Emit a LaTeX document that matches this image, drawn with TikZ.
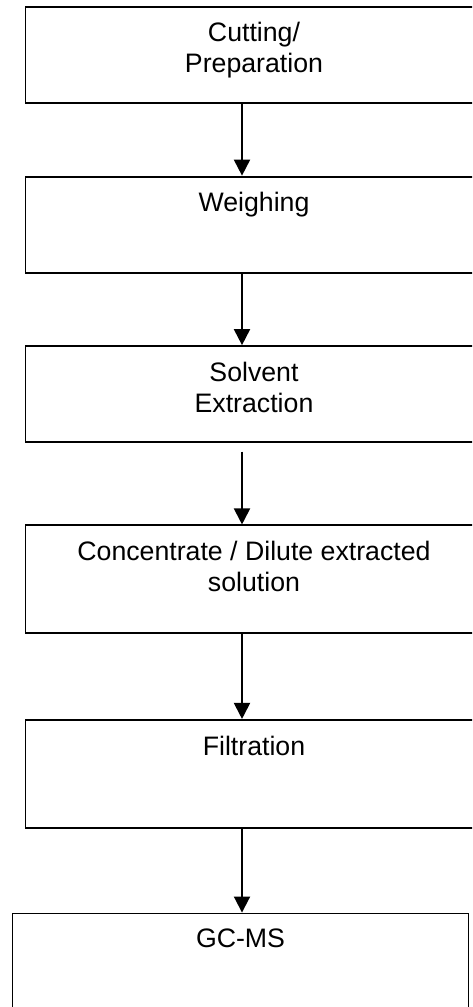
\documentclass[tikz,border=0pt]{standalone}
\usepackage{fontspec}
\setmainfont{Liberation Sans}
\usepackage{tikz}
\usetikzlibrary{arrows.meta, positioning}

\begin{document}
\begin{tikzpicture}[x=1pt, y=1pt,
  stepbox/.style={draw, line width=1.9pt, minimum width=457pt, minimum height=96pt, inner sep=0pt},
  steptext/.style={anchor=north, align=center, inner sep=0pt, font=\fontsize{26.7}{31}\selectfont},
  flow/.style={-{Triangle[length=16pt, width=16pt]}, line width=1.9pt}]
  \useasboundingbox (0,0) rectangle (472,-1007);
  \clip (0,0) rectangle (472,-1007);
  % process boxes
  \node[stepbox] (cut) at (254,-54.7) {};
  \node[stepbox, below=72pt of cut] (weigh) {};
  \node[stepbox, below=71.6pt of weigh] (solv) {};
  \node[stepbox, below=81.4pt of solv, minimum height=108pt] (conc) {};
  \node[stepbox, below=84.6pt of conc, minimum height=108pt] (filt) {};
  \node[stepbox, below=83.7pt of filt, xshift=-13.5pt, minimum width=456pt, minimum height=112pt, line width=1.6pt] (gcms) {};
  % box texts
  \node[steptext] (cuttext) at ([yshift=-16.5pt]cut.north) {Cutting/\\Preparation};
  \node[steptext] (weightext) at ([yshift=-16.5pt]weigh.north) {Weighing};
  \node[steptext] (solvtext) at ([yshift=-16.5pt]solv.north) {Solvent\\Extraction};
  \node[steptext] (conctext) at ([yshift=-16.5pt]conc.north) {Concentrate / Dilute extracted\\solution};
  \node[steptext] (filttext) at ([yshift=-16.5pt]filt.north) {Filtration};
  \node[steptext] (gcmstext) at ([yshift=-16.5pt]gcms.north) {GC-MS};
  % arrows
  \coordinate (axis) at (242,0);
  \path (solv.south -| axis) ++(0,-8.6) coordinate (gap);
  \draw[flow] (cut.south -| axis) -- (weigh.north -| axis);
  \draw[flow] (weigh.south -| axis) -- (solv.north -| axis);
  \draw[flow] (gap) -- (conc.north -| axis);
  \draw[flow] (conc.south -| axis) -- (filt.north -| axis);
  \draw[flow] (filt.south -| axis) -- (gcms.north -| axis);
\end{tikzpicture}
\end{document}
